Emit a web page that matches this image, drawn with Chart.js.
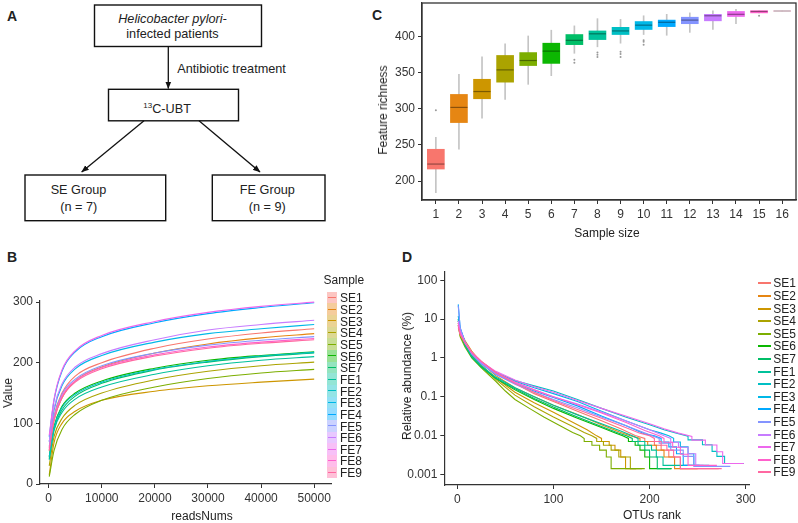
<!DOCTYPE html>
<html>
<head>
<meta charset="utf-8">
<script src="https://cdn.jsdelivr.net/npm/chart.js@4.4.1/dist/chart.umd.min.js"></script>
<style>
html, body { margin: 0; padding: 0; background: #fff; overflow: hidden; }
body { width: 798px; height: 523px; position: relative; font-family: "Liberation Sans", Arial, sans-serif; color: #222; }
canvas { position: absolute; }
.t { position: absolute; font-size: 12px; line-height: 1; white-space: nowrap; transform: translate(-50%, -50%); }
.rot { transform: translate(-50%, -50%) rotate(-90deg); }
.panel { position: absolute; font-size: 14px; font-weight: bold; line-height: 1; transform: translateY(-50%); }
.leg { position: absolute; font-size: 12px; line-height: 1; white-space: nowrap; }
</style>
</head>
<body>

<svg style="position:absolute;left:0;top:0" width="360" height="240" font-family="Liberation Sans, Arial, sans-serif" font-size="12.7" fill="#222">
  <defs>
    <marker id="ah" markerWidth="8" markerHeight="8" refX="7" refY="4" orient="auto" markerUnits="userSpaceOnUse">
      <path d="M0,1 L7.5,4 L0,7 Z" fill="#111"/>
    </marker>
  </defs>
  <rect x="94.5" y="5" width="167" height="41.5" fill="none" stroke="#111" stroke-width="1.4"/>
  <text x="172.5" y="18.5" text-anchor="middle" dominant-baseline="central" font-style="italic">Helicobacter pylori-</text>
  <text x="172.5" y="33.5" text-anchor="middle" dominant-baseline="central">infected patients</text>
  <line x1="168.3" y1="46.5" x2="168.3" y2="88.5" stroke="#111" stroke-width="1.3" marker-end="url(#ah)"/>
  <text x="177.3" y="69" dominant-baseline="central">Antibiotic treatment</text>
  <rect x="108.5" y="89.3" width="130" height="31.5" fill="none" stroke="#111" stroke-width="1.4"/>
  <text x="143.3" y="108.5" dominant-baseline="central"><tspan font-size="8" dy="-4">13</tspan><tspan dy="4">C-UBT</tspan></text>
  <line x1="144" y1="120.8" x2="81.7" y2="172" stroke="#111" stroke-width="1.3" marker-end="url(#ah)"/>
  <line x1="199" y1="120.8" x2="260" y2="172" stroke="#111" stroke-width="1.3" marker-end="url(#ah)"/>
  <rect x="25" y="175" width="140.7" height="45.7" fill="none" stroke="#111" stroke-width="1.4"/>
  <text x="78.5" y="189.5" text-anchor="middle" dominant-baseline="central">SE Group</text>
  <text x="78.8" y="206.7" text-anchor="middle" dominant-baseline="central">(n = 7)</text>
  <rect x="212.3" y="175" width="112.7" height="45.7" fill="none" stroke="#111" stroke-width="1.4"/>
  <text x="267.3" y="189.5" text-anchor="middle" dominant-baseline="central">FE Group</text>
  <text x="267.2" y="206.7" text-anchor="middle" dominant-baseline="central">(n = 9)</text>
</svg>

<div class="panel" style="left:7px;top:16px">A</div>
<div class="panel" style="left:372px;top:15px">C</div>
<div class="panel" style="left:7px;top:257px">B</div>
<div class="panel" style="left:402px;top:257px">D</div>

<canvas id="chartB" width="345" height="253" style="left:0;top:270px"></canvas>
<canvas id="chartC" width="450" height="250" style="left:360px;top:-10px"></canvas>
<canvas id="chartD" width="398" height="268" style="left:400px;top:255px"></canvas>

<div class="t rot" style="left:8px;top:393px">Value</div>
<div class="t" style="left:202px;top:516px">readsNums</div>
<div class="t rot" style="left:383px;top:110px">Feature richness</div>
<div class="t" style="left:607px;top:233px">Sample size</div>
<div class="t rot" style="left:407px;top:376px">Relative abundance (%)</div>
<div class="t" style="left:652px;top:515px">OTUs rank</div>

<div id="legB"></div>
<div id="legD"></div>

<script>
var SAMPLES = ['SE1', 'SE2', 'SE3', 'SE4', 'SE5', 'SE6', 'SE7', 'FE1', 'FE2', 'FE3', 'FE4', 'FE5', 'FE6', 'FE7', 'FE8', 'FE9'];

// B: rarefaction curves, one row per sample (same order as SAMPLES)
var READS = [100, 1000, 2500, 5000, 10000, 20000, 30000, 40000, 50000];
var RARE = [
    [60, 112, 150, 178, 200, 224, 239, 249, 256],
    [55, 105, 142, 170, 193, 216, 231, 241, 248],
    [15, 68, 100, 120, 138, 153, 162, 168, 173],
    [30, 78, 108, 130, 150, 172, 186, 195, 201],
    [12, 55, 90, 115, 138, 160, 174, 183, 189],
    [45, 95, 128, 150, 170, 191, 204, 212, 218],
    [42, 90, 122, 145, 166, 188, 201, 210, 216],
    [40, 88, 118, 140, 160, 181, 195, 204, 210],
    [45, 93, 126, 148, 168, 189, 202, 211, 217],
    [70, 122, 162, 190, 212, 234, 248, 256, 263],
    [78, 138, 186, 218, 243, 266, 281, 291, 299],
    [62, 110, 148, 173, 195, 216, 229, 237, 243],
    [70, 125, 165, 193, 215, 238, 254, 263, 270],
    [80, 140, 188, 220, 245, 268, 283, 293, 300],
    [58, 108, 145, 170, 192, 213, 226, 234, 240],
    [55, 105, 142, 168, 190, 211, 224, 232, 238]
];
var B_X_TICKS = [0, 10000, 20000, 30000, 40000, 50000];
var B_Y_TICKS = [0, 100, 200, 300];

// C: feature richness boxplots
var SIZES = [1, 2, 3, 4, 5, 6, 7, 8, 9, 10, 11, 12, 13, 14, 15, 16];
var BOX_LO = [184, 244, 287, 313, 334, 346, 377, 386, 391, 403, 402, 406, 410, 418, 433, 435.6];
var BOX_Q1 = [216.6, 281, 314, 337, 360, 363, 389, 396, 403, 410, 414, 418, 422, 428, 433, 435.6];
var BOX_MED = [223.5, 302, 324, 354, 367, 380, 395, 404, 408, 416, 420, 423, 429, 431, 435, 435.6];
var BOX_Q3 = [244, 320, 341, 374, 378, 391, 403, 408, 413, 421, 423, 427, 431, 435, 436, 435.6];
var BOX_HI = [260.5, 348, 372, 390, 401, 409, 415, 425, 424, 429, 431, 433, 436, 438, 436, 435.6];
var BOX_OUT = [[298], [], [], [], [], [], [368, 364], [378, 375, 372], [379, 376, 372], [395, 393, 389], [], [], [], [], [429], []];
var C_Y_TICKS = [200, 250, 300, 350, 400];

// D: rank abundance, [rank, relative abundance %] per sample
var RANK_ABUND = [
    [[1,8],[3,4.5],[8,2.5],[15,1.4],[25,0.8],[40,0.42],[60,0.22],[80,0.12],[100,0.075],[125,0.042],[150,0.024],[170,0.015],[185,0.01],[195,0.0084],[195,0.007],[205,0.007],[205,0.0056],[212,0.0056],[212,0.0042],[220,0.0042],[220,0.0028],[232,0.0028],[232,0.0014],[272,0.0014]],
    [[1,9],[3,5],[8,2.8],[15,1.5],[25,0.75],[40,0.35],[60,0.17],[80,0.1],[100,0.06],[125,0.035],[150,0.019],[170,0.012],[180,0.0098],[190,0.0084],[190,0.007],[198,0.007],[198,0.0056],[207,0.0056],[207,0.0042],[215,0.0042],[215,0.0028],[226,0.0028],[226,0.0014],[250,0.0014]],
    [[1,8],[3,4],[8,2.4],[15,1.2],[25,0.65],[40,0.3],[60,0.13],[80,0.07],[100,0.04],[120,0.022],[135,0.014],[145,0.0098],[150,0.0084],[150,0.007],[158,0.007],[158,0.0056],[164,0.0056],[164,0.0042],[170,0.0042],[170,0.0028],[175,0.0028],[175,0.0014],[186,0.0014]],
    [[1,7],[3,3.8],[8,2.2],[15,1.1],[25,0.6],[40,0.28],[60,0.11],[80,0.055],[100,0.03],[118,0.018],[132,0.012],[140,0.0098],[145,0.0084],[145,0.007],[152,0.007],[152,0.0056],[160,0.0056],[160,0.0042],[168,0.0042],[168,0.0028],[180,0.0028],[180,0.0014],[192,0.0014]],
    [[1,7],[3,3.5],[8,1.9],[15,1],[25,0.55],[40,0.25],[50,0.14],[60,0.085],[75,0.05],[90,0.03],[105,0.019],[120,0.012],[128,0.0098],[132,0.0084],[132,0.007],[140,0.007],[140,0.0056],[148,0.0056],[148,0.0042],[155,0.0042],[155,0.0028],[160,0.0028],[160,0.0014],[195,0.0014]],
    [[1,10],[3,5],[8,2.2],[15,1.1],[25,0.6],[40,0.3],[60,0.15],[80,0.085],[100,0.05],[125,0.028],[150,0.016],[165,0.0115],[172,0.0098],[178,0.0084],[178,0.007],[185,0.007],[185,0.0056],[190,0.0056],[190,0.0042],[195,0.0042],[195,0.0028],[200,0.0028],[200,0.0014],[223,0.0014]],
    [[1,9],[3,4.8],[8,2.1],[15,1.05],[25,0.58],[40,0.3],[60,0.16],[80,0.09],[100,0.054],[125,0.03],[150,0.017],[168,0.0115],[176,0.0098],[182,0.0084],[182,0.007],[188,0.007],[188,0.0056],[195,0.0056],[195,0.0042],[200,0.0042],[200,0.0028],[208,0.0028],[208,0.0014],[222,0.0014]],
    [[1,9],[3,4.6],[8,2.2],[15,1.1],[25,0.62],[40,0.32],[60,0.17],[80,0.1],[100,0.06],[125,0.034],[150,0.02],[170,0.013],[182,0.0098],[188,0.0084],[188,0.007],[195,0.007],[195,0.0056],[202,0.0056],[202,0.0042],[207,0.0042],[207,0.0028],[214,0.0028],[214,0.0017],[245,0.0017]],
    [[1,10],[3,5],[8,2.5],[15,1.3],[25,0.75],[40,0.42],[60,0.26],[80,0.19],[100,0.14],[125,0.085],[150,0.05],[175,0.03],[200,0.019],[215,0.014],[228,0.0115],[240,0.0096],[240,0.0077],[255,0.0077],[255,0.0058],[265,0.0058],[265,0.0039],[270,0.0039],[270,0.0029],[278,0.0029],[278,0.0019],[298,0.0019]],
    [[1,12],[3,5.5],[8,2.6],[15,1.3],[25,0.72],[40,0.4],[60,0.25],[80,0.17],[100,0.12],[125,0.075],[150,0.042],[175,0.024],[200,0.014],[212,0.0115],[220,0.0098],[225,0.0085],[225,0.0068],[232,0.0068],[232,0.0051],[240,0.0051],[240,0.0034],[246,0.0034],[246,0.0017],[262,0.0017]],
    [[1,24],[3,6],[8,2.6],[15,1.3],[25,0.7],[40,0.38],[60,0.22],[80,0.14],[100,0.095],[125,0.058],[150,0.032],[175,0.018],[195,0.011],[205,0.0098],[212,0.0084],[212,0.0068],[220,0.0068],[220,0.0051],[228,0.0051],[228,0.0034],[235,0.0034],[235,0.0017],[252,0.0017]],
    [[1,22],[3,6],[8,2.5],[15,1.25],[25,0.7],[40,0.38],[60,0.21],[80,0.13],[100,0.085],[125,0.052],[150,0.03],[175,0.018],[200,0.0105],[210,0.0084],[210,0.0063],[222,0.0063],[222,0.0042],[235,0.0042],[235,0.0029],[246,0.0029],[246,0.0016],[284,0.0016]],
    [[1,9],[3,5],[8,2.6],[15,1.35],[25,0.75],[40,0.4],[60,0.23],[80,0.15],[100,0.1],[125,0.065],[150,0.04],[175,0.024],[200,0.014],[215,0.0098],[222,0.0084],[222,0.0067],[230,0.0067],[230,0.005],[240,0.005],[240,0.0034],[248,0.0034],[248,0.0017],[256,0.0017]],
    [[1,8],[3,4.5],[8,2.5],[15,1.4],[25,0.8],[40,0.45],[60,0.27],[80,0.18],[100,0.13],[125,0.08],[150,0.05],[175,0.032],[200,0.02],[215,0.015],[230,0.0115],[244,0.0095],[244,0.0076],[258,0.0076],[258,0.0057],[270,0.0057],[270,0.0038],[276,0.0038],[276,0.0019],[298,0.0019]],
    [[1,7],[3,4.2],[8,2.4],[15,1.35],[25,0.8],[40,0.42],[60,0.24],[80,0.15],[100,0.1],[125,0.062],[150,0.038],[175,0.022],[195,0.0135],[210,0.0098],[215,0.0084],[215,0.0067],[224,0.0067],[224,0.005],[232,0.005],[232,0.0033],[240,0.0033],[240,0.0017],[270,0.0017]],
    [[1,6],[3,4],[8,2.5],[15,1.4],[25,0.82],[40,0.42],[60,0.22],[80,0.13],[100,0.08],[125,0.047],[150,0.028],[175,0.016],[190,0.0115],[200,0.0098],[205,0.0084],[205,0.007],[212,0.007],[212,0.0056],[218,0.0056],[218,0.0042],[225,0.0042],[225,0.0028],[232,0.0028],[232,0.0014],[275,0.0014]]
];
var D_X_TICKS = [0, 100, 200, 300];
var D_Y_TICKS = [0.001, 0.01, 0.1, 1, 10, 100];

// ggplot-like hue palette (hcl, c=100, l=65)
function hcl(h, c, l) {
    var d = Math.PI / 180;
    var Y = l > 8 ? Math.pow((l + 16) / 116, 3) : l / 903.3;
    var u = c * Math.cos(h * d) / (13 * l) + 0.1978398;
    var v = c * Math.sin(h * d) / (13 * l) + 0.4683363;
    var X = 9 * Y * u / (4 * v);
    var Z = -X / 3 - 5 * Y + 3 * Y / v;
    var lin = [
        3.240479 * X - 1.537150 * Y - 0.498535 * Z,
        -0.969256 * X + 1.875992 * Y + 0.041556 * Z,
        0.055648 * X - 0.204043 * Y + 1.057311 * Z
    ];
    return lin.map(function (x) {
        x = x <= 0.0031308 ? 12.92 * x : 1.055 * Math.pow(x, 1 / 2.4) - 0.055;
        return Math.round(Math.max(0, Math.min(1, x)) * 255);
    });
}

var rgbs = [];
for (var i = 0; i < 16; i++) {
    rgbs.push(hcl(15 + i * 22.5, 100, 65));
}
function col(i, a) {
    var c = rgbs[i];
    if (a === undefined) return 'rgb(' + c[0] + ',' + c[1] + ',' + c[2] + ')';
    return 'rgba(' + c[0] + ',' + c[1] + ',' + c[2] + ',' + a + ')';
}
function dark(i) {
    var c = rgbs[i];
    return 'rgb(' + Math.round(c[0] * 0.6) + ',' + Math.round(c[1] * 0.6) + ',' + Math.round(c[2] * 0.6) + ')';
}

Chart.defaults.font.family = '"Liberation Sans", Arial, sans-serif';
Chart.defaults.font.size = 12;
Chart.defaults.color = '#333';

function setTicks(list) {
    return function (scale) {
        scale.ticks = list.map(function (v) { return { value: v }; });
    };
}

function axis(opts, ticks, fit) {
    var base = {
        offset: false,
        afterBuildTicks: setTicks(ticks),
        afterFit: fit,
        grid: { drawOnChartArea: false, drawTicks: true, tickLength: 4, color: '#333', lineWidth: 1, offset: false },
        border: { display: true, color: '#333', width: 1.2 },
        ticks: {
            autoSkip: false, maxRotation: 0, padding: 3, color: '#333',
            callback: function (v) { return String(v); }
        }
    };
    for (var k in opts) base[k] = opts[k];
    return base;
}

var common = {
    responsive: false,
    animation: false,
    events: [],
    plugins: { legend: { display: false }, tooltip: { enabled: false } }
};

// ---- B ----
new Chart(document.getElementById('chartB'), {
    type: 'line',
    data: {
        datasets: SAMPLES.map(function (s, i) {
            return {
                label: s,
                data: READS.map(function (x, j) { return { x: x, y: RARE[i][j] }; }),
                borderColor: col(i),
                borderWidth: 1.1,
                pointRadius: 0,
                fill: false,
                tension: 0.4,
                cubicInterpolationMode: 'monotone',
                order: SAMPLES.length - i
            };
        })
    },
    options: Object.assign({}, common, {
        layout: { padding: { left: 0, top: 31, right: 13.3, bottom: 0 } },
        scales: {
            x: axis({ type: 'linear', min: -1640, max: 53300 }, B_X_TICKS, function (s) { s.height = 39; }),
            y: axis({ type: 'linear', min: 0, max: 301.8 }, B_Y_TICKS, function (s) { s.width = 40; })
        }
    })
});

// ---- C ----
var outPts = [];
for (var b = 0; b < SIZES.length; b++) {
    for (var k = 0; k < BOX_OUT[b].length; k++) {
        outPts.push({ x: SIZES[b], y: BOX_OUT[b][k] });
    }
}
var framePlugin = {
    id: 'frame',
    afterDraw: function (chart) {
        var a = chart.chartArea;
        var ctx = chart.ctx;
        ctx.save();
        ctx.strokeStyle = '#333';
        ctx.lineWidth = 1.3;
        ctx.strokeRect(a.left, a.top, a.right - a.left, a.bottom - a.top);
        ctx.restore();
    }
};
new Chart(document.getElementById('chartC'), {
    type: 'bar',
    data: {
        datasets: [
            {
                type: 'scatter',
                data: SIZES.map(function (s, i) { return { x: s, y: BOX_MED[i] }; }),
                pointStyle: 'line',
                pointRadius: 8.5,
                pointBorderWidth: 1.2,
                pointBorderColor: SIZES.map(function (s, i) { return i === 15 ? '#b5b5b5' : dark(i); }),
                order: 0
            },
            {
                data: SIZES.map(function (s, i) { return { x: s, y: [BOX_Q1[i], BOX_Q3[i]] }; }),
                backgroundColor: SIZES.map(function (s, i) { return col(i); }),
                barThickness: 17,
                grouped: false,
                order: 1
            },
            {
                type: 'scatter',
                data: outPts,
                pointRadius: 1,
                pointBorderWidth: 0,
                pointBackgroundColor: '#9a9a9a',
                order: 2
            },
            {
                data: SIZES.map(function (s, i) { return { x: s, y: [BOX_LO[i], BOX_HI[i]] }; }),
                backgroundColor: '#c4c4c4',
                barThickness: 1,
                grouped: false,
                order: 3
            }
        ]
    },
    options: Object.assign({}, common, {
        layout: { padding: { left: 0, top: 13, right: 14, bottom: 0 } },
        scales: {
            x: axis({ type: 'linear', min: 0.4, max: 16.6 }, SIZES, function (s) { s.height = 40; }),
            y: axis({ type: 'linear', min: 173.7, max: 446.7 }, C_Y_TICKS, function (s) { s.width = 62; })
        }
    }),
    plugins: [framePlugin]
});

// ---- D ----
new Chart(document.getElementById('chartD'), {
    type: 'line',
    data: {
        datasets: SAMPLES.map(function (s, i) {
            return {
                label: s,
                data: RANK_ABUND[i].map(function (p) { return { x: p[0], y: p[1] }; }),
                borderColor: col(i),
                borderWidth: 1.1,
                pointRadius: 0,
                fill: false,
                tension: 0,
                order: SAMPLES.length - i
            };
        })
    },
    options: Object.assign({}, common, {
        layout: { padding: { left: 0, top: 16.7, right: 48.7, bottom: 0 } },
        scales: {
            x: axis({ type: 'linear', min: -13.5, max: 303.7 }, D_X_TICKS, function (s) { s.height = 38; }),
            y: axis({ type: 'logarithmic', min: 0.00053, max: 166.6 }, D_Y_TICKS, function (s) { s.width = 44.3; })
        }
    })
});

// ---- legends ----
var legB = document.getElementById('legB');
var htmlB = '<div class="leg" style="left:323.5px;top:274px">Sample</div>';
for (var i = 0; i < SAMPLES.length; i++) {
    var ky = 291.7 + i * 11.66;
    htmlB += '<div style="position:absolute;left:326.7px;top:' + ky.toFixed(1) + 'px;width:10.5px;height:11.7px;background:' + col(i, 0.42) + '"></div>';
    htmlB += '<div style="position:absolute;left:327.7px;top:' + (ky + 5.2).toFixed(1) + 'px;width:8.5px;height:1.3px;background:' + col(i) + '"></div>';
    htmlB += '<div class="leg" style="left:340px;top:' + (ky + 0.5).toFixed(1) + 'px">' + SAMPLES[i] + '</div>';
}
legB.innerHTML = htmlB;

var legD = document.getElementById('legD');
var htmlD = '';
for (var i = 0; i < SAMPLES.length; i++) {
    var cy = 283.3 + i * 12.6;
    htmlD += '<div style="position:absolute;left:758px;top:' + Math.round(cy - 1) + 'px;width:12.5px;height:1.5px;background:' + col(i) + '"></div>';
    htmlD += '<div class="leg" style="left:773.3px;top:' + (cy - 6).toFixed(1) + 'px">' + SAMPLES[i] + '</div>';
}
legD.innerHTML = htmlD;
</script>
</body>
</html>
